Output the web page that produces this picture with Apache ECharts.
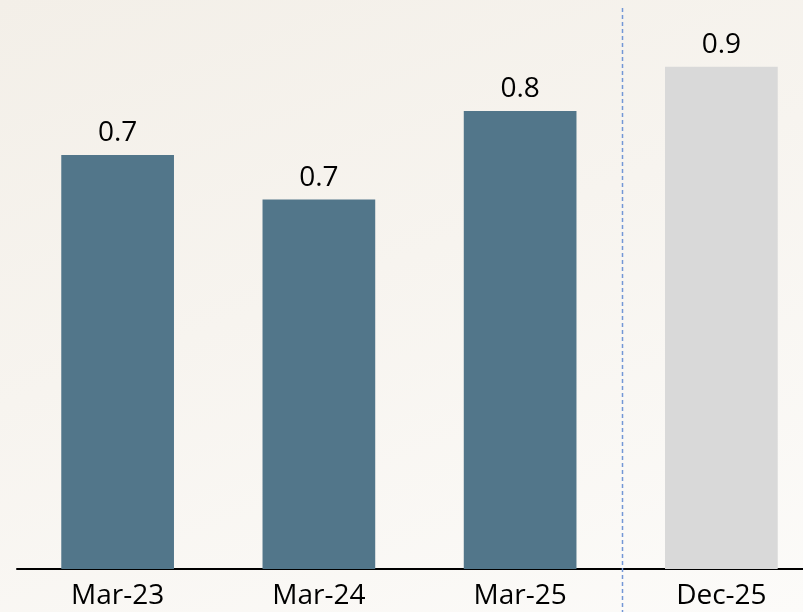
<!DOCTYPE html>
<html>
<head>
<meta charset="utf-8">
<script src="https://cdn.jsdelivr.net/npm/echarts@6/dist/echarts.min.js"></script>
<style>
html,body{margin:0;padding:0;overflow:hidden;}
#wrap{width:803px;height:612px;overflow:hidden;background:linear-gradient(160deg,#f3efe8 0%,#f7f4ef 45%,#fcfbf9 100%);}
#chart{width:822px;height:612px;}
</style>
</head>
<body>
<div id="wrap"><div id="chart"></div></div>
<script>
var categories = ['Mar-23', 'Mar-24', 'Mar-25', 'Dec-25'];
var values = [0.742, 0.662, 0.821, 0.9];
var barColors = ['#52768a', '#52768a', '#52768a', '#d9d9d9'];

var chart = echarts.init(document.getElementById('chart'), null, {renderer: 'canvas'});
var font = '"Open Sans", sans-serif';
chart.setOption({
  backgroundColor: 'transparent',
  animation: false,
  grid: {left: 17, right: 0, top: 11, bottom: 43},
  xAxis: {
    type: 'category',
    data: categories,
    axisLine: {show: true, lineStyle: {color: '#000', width: 2}},
    axisTick: {show: false},
    axisLabel: {color: '#000', fontSize: 28, fontFamily: font, margin: 13}
  },
  yAxis: {
    type: 'value', min: 0, max: 1, show: false,
    splitLine: {show: false}
  },
  series: [{
    type: 'bar',
    barWidth: '56%',
    data: values.map(function (v, i) { return {value: v, itemStyle: {color: barColors[i]}}; }),
    label: {
      show: true, position: 'top', distance: 8,
      color: '#000', fontSize: 28, fontFamily: font,
      formatter: function (p) { return p.value.toFixed(1); }
    }
  }]
});

var xa = chart.convertToPixel({xAxisIndex: 0}, 2);
var xb = chart.convertToPixel({xAxisIndex: 0}, 3);
var xm = Math.round((xa + xb) / 2) + 1.5;
chart.setOption({
  graphic: [{
    type: 'line',
    shape: {x1: xm, y1: 8, x2: xm, y2: 612},
    style: {stroke: '#7397d6', lineWidth: 1.5, lineDash: [4, 3]},
    z: 10
  }]
});
</script>
</body>
</html>
